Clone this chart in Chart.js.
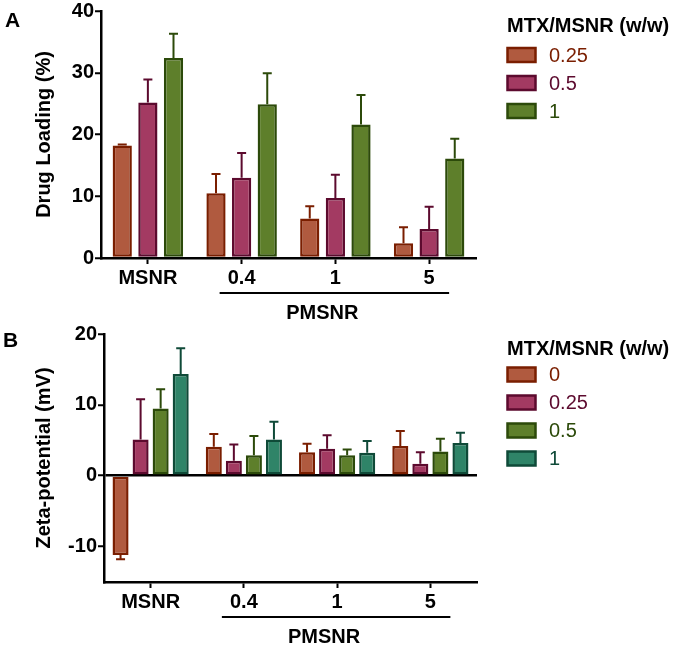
<!DOCTYPE html>
<html><head><meta charset="utf-8">
<script src="https://cdn.jsdelivr.net/npm/chart.js@4/dist/chart.umd.min.js"></script>
<style>
html,body{margin:0;padding:0;background:#fff;}
#wrap{position:relative;width:675px;height:647px;overflow:hidden;}
canvas{position:absolute;left:0;}
</style></head><body>
<div id="wrap">
<canvas id="cA" width="675" height="323" style="top:0px"></canvas>
<canvas id="cB" width="675" height="324" style="top:323px"></canvas>
</div>
<script>
// ---------- data ----------
const categories = ['MSNR', '0.4', '1', '5'];
const groupLabel = 'PMSNR';
const legendTitle = 'MTX/MSNR (w/w)';

// Panel A: drug loading (%)
const loadingSeriesNames = ['0.25', '0.5', '1'];
const loading025 = [18.2, 10.5, 6.4, 2.4];
const loading05  = [25.2, 13.0, 9.7, 4.7];
const loading1   = [32.4, 24.9, 21.6, 16.1];
const loading025Err = [0.2, 3.1, 2.0, 2.6];
const loading05Err  = [3.7, 4.0, 3.8, 3.6];
const loading1Err   = [3.9, 5.0, 4.8, 3.2];
const loadingTicks = [0, 10, 20, 30, 40];

// Panel B: zeta potential (mV)
const zetaSeriesNames = ['0', '0.25', '0.5', '1'];
const zeta0   = [-11.2, 4.1, 3.3, 4.2];
const zeta025 = [5.1, 2.1, 3.8, 1.7];
const zeta05  = [9.5, 2.9, 2.9, 3.4];
const zeta1   = [14.35, 5.1, 3.25, 4.6];
const zeta0Err   = [0.6, 1.8, 1.2, 2.1];
const zeta025Err = [5.7, 2.3, 1.9, 1.6];
const zeta05Err  = [2.7, 2.7, 0.8, 1.8];
const zeta1Err   = [3.65, 2.5, 1.65, 1.45];
const zetaTicks = [-10, 0, 10, 20];

// ---------- styles ----------
const FONT = "'Liberation Sans', Arial, Helvetica, sans-serif";
const C = {
  orange: {fill: '#B05A3F', line: '#7A1E00'},
  purple: {fill: '#A33A62', line: '#5C0A2E'},
  green:  {fill: '#5E7F2B', line: '#2C4A0A'},
  teal:   {fill: '#2F8468', line: '#0F4A38'}
};

function ds(label, data, err, col) {
  return {label, data, err, backgroundColor: col.fill, borderColor: col.line,
    borderWidth: 2.5, borderSkipped: false};
}

const errorBarPlugin = {
  id: 'errorBars',
  afterDatasetsDraw(chart) {
    const ctx = chart.ctx;
    const ys = chart.scales.y;
    chart.data.datasets.forEach((d, i) => {
      const meta = chart.getDatasetMeta(i);
      meta.data.forEach((el, j) => {
        const v = d.data[j], e = d.err[j];
        const end = v >= 0 ? v + e : v - e;
        const y1 = ys.getPixelForValue(end);
        const y0 = ys.getPixelForValue(v);
        ctx.save();
        ctx.strokeStyle = d.borderColor;
        ctx.lineWidth = 2;
        ctx.beginPath();
        ctx.moveTo(el.x, y0);
        ctx.lineTo(el.x, y1);
        ctx.moveTo(el.x - 4.5, y1);
        ctx.lineTo(el.x + 4.5, y1);
        ctx.stroke();
        ctx.restore();
      });
    });
  }
};

const extrasPlugin = {
  id: 'extras',
  afterDraw(chart, args, opts) {
    const ctx = chart.ctx;
    const xs = chart.scales.x;
    const bottom = chart.chartArea.bottom;
    ctx.save();
    // panel letter
    ctx.fillStyle = '#000';
    ctx.font = 'bold 21px ' + FONT;
    ctx.textBaseline = 'alphabetic';
    ctx.textAlign = 'left';
    ctx.fillText(opts.letter, opts.letterX, opts.letterY);
    // group underline
    const xa = xs.getPixelForValue(1) - 22;
    const xb = xs.getPixelForValue(3) + 20;
    ctx.strokeStyle = '#000';
    ctx.lineWidth = 2;
    ctx.beginPath();
    ctx.moveTo(xa, bottom + 35);
    ctx.lineTo(xb, bottom + 35);
    ctx.stroke();
    ctx.font = 'bold 20px ' + FONT;
    ctx.textAlign = 'center';
    ctx.fillText(groupLabel, (xa + xb) / 2 - 12, bottom + 61);
    // legend
    ctx.textAlign = 'left';
    ctx.fillText(legendTitle, 507, opts.legendTitleY);
    ctx.font = '20px ' + FONT;
    ctx.textBaseline = 'middle';
    chart.data.datasets.forEach((d, i) => {
      const cy = opts.legendY + i * 28;
      ctx.fillStyle = d.backgroundColor;
      ctx.strokeStyle = d.borderColor;
      ctx.lineWidth = 2.5;
      ctx.beginPath();
      ctx.rect(507.5, cy - 7, 28, 14);
      ctx.fill();
      ctx.stroke();
      ctx.fillStyle = d.borderColor;
      ctx.fillText(d.label, 549, cy + 1);
    });
    ctx.restore();
  }
};

function makeOptions(cfg) {
  return {
    responsive: false,
    animation: false,
    devicePixelRatio: 1,
    layout: {padding: {left: 0, right: cfg.padRight, top: cfg.padTop, bottom: 0}},
    datasets: {bar: {categoryPercentage: cfg.catPct, barPercentage: cfg.barPct}},
    plugins: {
      legend: {display: false},
      tooltip: {enabled: false},
      extras: {letter: cfg.letter, letterX: cfg.letterX, letterY: cfg.letterY,
               legendTitleY: cfg.legendTitleY, legendY: cfg.legendY}
    },
    scales: {
      x: {
        offset: true,
        afterFit(s) { s.height = cfg.xHeight; },
        grid: {offset: false, drawOnChartArea: false, drawTicks: true, tickLength: 6,
               tickColor: '#000', tickWidth: 2},
        border: {color: '#000', width: 2.5},
        ticks: {color: '#000', padding: 4, font: {family: FONT, size: 20, weight: 'bold', lineHeight: 1}}
      },
      y: {
        min: cfg.min, max: cfg.max,
        afterFit(s) { s.width = cfg.yWidth; },
        afterBuildTicks(s) { s.ticks = cfg.ticks.map(v => ({value: v})); },
        grid: {
          drawOnChartArea: cfg.zeroLine, drawTicks: true, tickLength: 6,
          tickColor: '#000', tickWidth: 2,
          color: (c) => (c.tick && c.tick.value === 0) ? '#000' : 'rgba(0,0,0,0)',
          lineWidth: 2.5
        },
        border: {color: '#000', width: 2.5},
        ticks: {color: '#000', padding: 1, font: {family: FONT, size: 20, weight: 'bold', lineHeight: 1}},
        title: {display: true, text: cfg.yTitle, color: '#000',
                padding: {top: 32, bottom: 0},
                font: {family: FONT, size: 20, weight: 'bold', lineHeight: 1.2}}
      }
    }
  };
}

new Chart(document.getElementById('cA'), {
  type: 'bar',
  data: {
    labels: categories,
    datasets: [
      ds(loadingSeriesNames[0], loading025, loading025Err, C.orange),
      ds(loadingSeriesNames[1], loading05, loading05Err, C.purple),
      ds(loadingSeriesNames[2], loading1, loading1Err, C.green)
    ]
  },
  options: makeOptions({padRight: 199, padTop: 10, xHeight: 65, yWidth: 101,
    min: 0, max: 40, ticks: loadingTicks, zeroLine: false, yTitle: 'Drug Loading (%)',
    catPct: 0.82, barPct: 0.75, letter: 'A', letterX: 5, letterY: 27,
    legendTitleY: 32, legendY: 55}),
  plugins: [errorBarPlugin, extrasPlugin]
});

new Chart(document.getElementById('cB'), {
  type: 'bar',
  data: {
    labels: categories,
    datasets: [
      ds(zetaSeriesNames[0], zeta0, zeta0Err, C.orange),
      ds(zetaSeriesNames[1], zeta025, zeta025Err, C.purple),
      ds(zetaSeriesNames[2], zeta05, zeta05Err, C.green),
      ds(zetaSeriesNames[3], zeta1, zeta1Err, C.teal)
    ]
  },
  options: makeOptions({padRight: 198, padTop: 11, xHeight: 65, yWidth: 104,
    min: -15, max: 20, ticks: zetaTicks, zeroLine: true, yTitle: 'Zeta-potential (mV)',
    catPct: 0.86, barPct: 0.8, letter: 'B', letterX: 3, letterY: 24,
    legendTitleY: 32, legendY: 51.5}),
  plugins: [errorBarPlugin, extrasPlugin]
});
</script>
</body></html>
